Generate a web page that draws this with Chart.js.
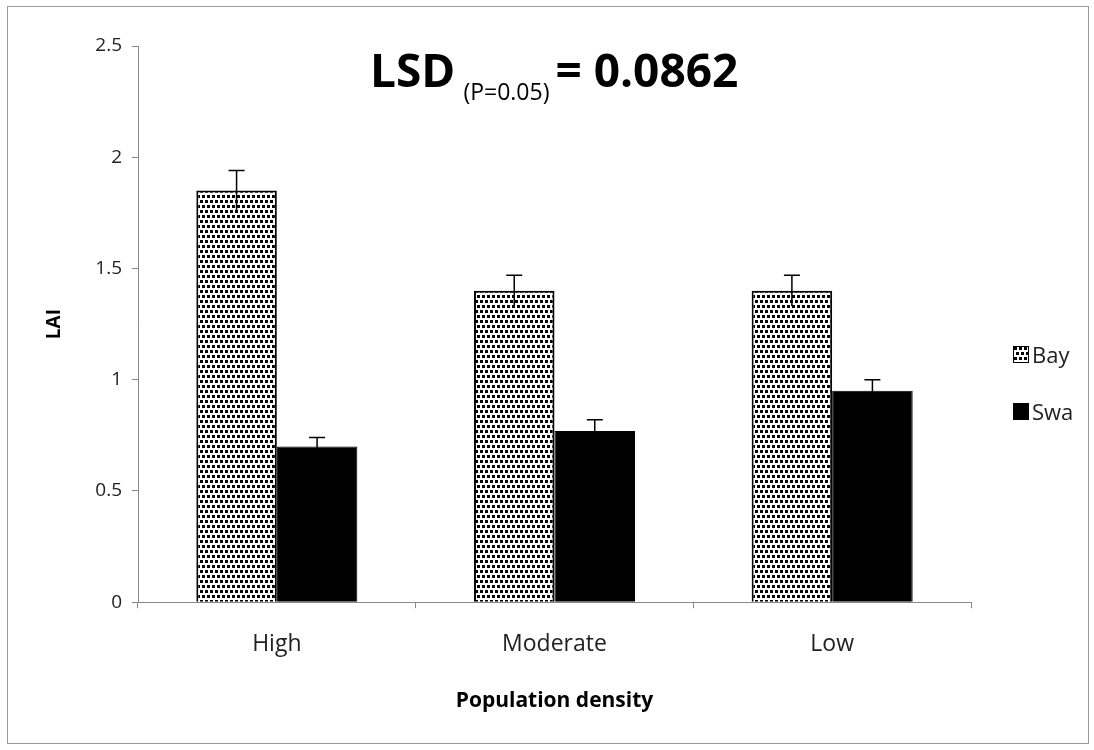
<!DOCTYPE html>
<html>
<head>
<meta charset="utf-8">
<script src="https://cdn.jsdelivr.net/npm/chart.js@4"></script>
<style>
    body { margin: 0; background: #fff; }
    #wrap { position: relative; width: 1094px; height: 750px; }
    #frame { position: absolute; left: 7px; top: 6px; width: 1080px; height: 736px; border: 1px solid #9a9a9a; pointer-events: none; }
    #lsd { position: absolute; left: 370px; top: 38px; font-family: "Open Sans", sans-serif; font-weight: bold; font-size: 46px; color: #000; white-space: nowrap; }
    #lsd sub { font-size: 23px; font-weight: normal; vertical-align: -13px; margin: 0 6px 0 8px; }
    .leg { position: absolute; left: 1013px; font-family: "Open Sans", sans-serif; font-size: 22px; color: #222; display: flex; align-items: center; }
    .leg canvas { width: 14px; height: 15px; margin-right: 3px; border: 1px solid #000; }
</style>
</head>
<body>
<div id="wrap">
    <canvas id="chart" width="1094" height="750"></canvas>
    <div id="frame"></div>
    <div id="lsd">LSD<sub>(P=0.05)</sub>= 0.0862</div>
    <div class="leg" style="top:339px"><canvas id="swBay" width="14" height="15"></canvas>Bay</div>
    <div class="leg" style="top:396px"><canvas id="swSwa" width="14" height="15"></canvas>Swa</div>
</div>
<script>
const categories = ['High', 'Moderate', 'Low'];
const bayValues = [1.85, 1.40, 1.40];
const bayErrors = [0.09, 0.07, 0.07];
const swaValues = [0.70, 0.77, 0.95];
const swaErrors = [0.04, 0.05, 0.05];
const yTicks = [0, 0.5, 1, 1.5, 2, 2.5];

// dotted fill used for the Bay bars
function makeDots() {
    const c = document.createElement('canvas');
    c.width = 5; c.height = 10;
    const g = c.getContext('2d');
    g.fillStyle = '#fff';
    g.fillRect(0, 0, 5, 10);
    g.fillStyle = '#000';
    g.fillRect(0, 0, 3, 3);
    g.fillRect(2, 5, 3, 3);
    return c;
}
const dotTile = makeDots();

// legend swatches
const sb = document.getElementById('swBay').getContext('2d');
sb.fillStyle = sb.createPattern(dotTile, 'repeat');
sb.fillRect(0, 0, 14, 15);
const ss = document.getElementById('swSwa').getContext('2d');
ss.fillStyle = '#000';
ss.fillRect(0, 0, 14, 15);

const errorBars = {
    id: 'errorBars',
    afterDatasetsDraw(chart) {
        const ctx = chart.ctx;
        const y = chart.scales.y;
        const sets = [bayErrors, swaErrors];
        ctx.save();
        ctx.strokeStyle = '#000';
        ctx.lineWidth = 1.5;
        chart.data.datasets.forEach((ds, i) => {
            chart.getDatasetMeta(i).data.forEach((bar, j) => {
                const v = ds.data[j];
                const top = y.getPixelForValue(v + sets[i][j]);
                const bot = y.getPixelForValue(v - sets[i][j]);
                ctx.beginPath();
                ctx.moveTo(bar.x, bot);
                ctx.lineTo(bar.x, top);
                ctx.moveTo(bar.x - 8, top);
                ctx.lineTo(bar.x + 8, top);
                ctx.stroke();
            });
        });
        ctx.restore();
    }
};

const ctx = document.getElementById('chart').getContext('2d');
new Chart(ctx, {
    type: 'bar',
    data: {
        labels: categories,
        datasets: [{
            label: 'Bay',
            data: bayValues,
            backgroundColor: ctx.createPattern(dotTile, 'repeat'),
            borderColor: '#000',
            borderWidth: 2
        }, {
            label: 'Swa',
            data: swaValues,
            backgroundColor: '#000',
            borderColor: '#000',
            borderWidth: 1
        }]
    },
    options: {
        responsive: false,
        animation: false,
        categoryPercentage: 0.58,
        barPercentage: 1,
        layout: { padding: { left: 0, top: 46, right: 123, bottom: 36 } },
        plugins: {
            legend: { display: false },
            tooltip: { enabled: false }
        },
        scales: {
            x: {
                grid: { offset: true, drawOnChartArea: false, tickLength: 6, color: '#888' },
                border: { color: '#888' },
                ticks: { color: '#222', padding: 22, font: { family: 'Open Sans', size: 23 } },
                title: { display: true, text: 'Population density', color: '#000', padding: { top: 9, bottom: 0 }, font: { family: 'Open Sans', size: 21, weight: 'bold' } }
            },
            y: {
                min: 0,
                max: 2.5,
                afterBuildTicks: (s) => { s.ticks = yTicks.map(v => ({ value: v })); },
                afterFit: (s) => { s.width = 138; },
                grid: { drawOnChartArea: false, tickLength: 6, color: '#888' },
                border: { color: '#888' },
                ticks: { color: '#222', padding: 10, font: { family: 'Open Sans', size: 19 }, callback: (v) => String(v) },
                title: { display: true, text: 'LAI', color: '#000', padding: { top: 43, bottom: 0 }, font: { family: 'Open Sans', size: 19, weight: 'bold' } }
            }
        }
    },
    plugins: [errorBars]
});
</script>
</body>
</html>
